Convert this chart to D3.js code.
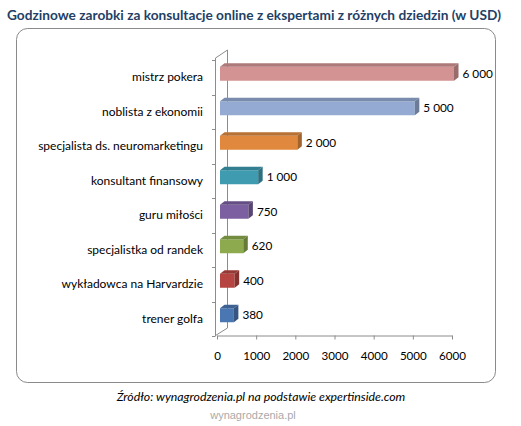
<!DOCTYPE html>
<html><head><meta charset="utf-8">
<script src="https://cdn.jsdelivr.net/npm/d3@7"></script>
<style>body{margin:0;background:#fff}svg{display:block}</style>
</head><body>
<svg id="c" width="521" height="426"></svg>
<script>
const categories = ["mistrz pokera","noblista z ekonomii","specjalista ds. neuromarketingu","konsultant finansowy","guru miłości","specjalistka od randek","wykładowca na Harvardzie","trener golfa"];
const values = [6000,5000,2000,1000,750,620,400,380];
const barColors = ["#D49393","#94AAD2","#E0893E","#3E9BB0","#7B5FA0","#8DAA4E","#B64541","#4A77B2"];
const tickValues = [0,1000,2000,3000,4000,5000,6000];
const title = "Godzinowe zarobki za konsultacje online z ekspertami z różnych dziedzin (w USD)";
const source = "Źródło: wynagrodzenia.pl na podstawie expertinside.com";
const watermark = "wynagrodzenia.pl";

const svg = d3.select("#c");
const font = "Lato, 'Open Sans', sans-serif";

svg.append("text").attr("x",254).attr("y",20).attr("text-anchor","middle")
  .attr("font-family",font).attr("font-weight","bold").attr("font-size",13.7)
  .attr("fill","#243F66").text(title);

svg.append("rect").attr("x",16.5).attr("y",28.5).attr("width",479).attr("height",354)
  .attr("rx",11).attr("fill","#fff").attr("stroke","#8a8a8a").attr("stroke-width",1);

const x = d3.scaleLinear().domain([0,6000]).range([217,452]);
const y = d3.scaleBand().domain(categories).range([60,336]);

// walls
const wall = svg.append("g").attr("stroke","#8c8c8c").attr("fill","none").attr("stroke-width",1);
const dxW = 12, dyW = -8;
wall.append("path").attr("d",`M215.5,${y.range()[0]-2}L${215.5+dxW},${y.range()[0]-2+dyW}L${215.5+dxW},${336+dyW}L215.5,335.5`);
wall.append("line").attr("x1",215.5).attr("x2",215.5).attr("y1",y.range()[0]-2).attr("y2",336);
const bounds = categories.map(c=>y(c)).concat([y.range()[1]]);
wall.selectAll("line.t").data(bounds).join("line").attr("class","t")
  .attr("x1",212).attr("x2",215.5).attr("y1",d=>Math.round(d)+0.5).attr("y2",d=>Math.round(d)+0.5);

// x axis
const ax = svg.append("g").attr("transform","translate(0,335.5)")
  .call(d3.axisBottom(x).tickValues(tickValues).tickFormat(d3.format("d")).tickSize(4).tickSizeOuter(0).tickPadding(12));
ax.select(".domain").attr("stroke","#8c8c8c");
ax.selectAll(".tick line").attr("stroke","#8c8c8c");
ax.selectAll("text").attr("font-family",font).attr("font-size",11.6).attr("fill","#000");

// category labels
svg.selectAll("text.cat").data(categories).join("text").attr("class","cat")
  .attr("x",203).attr("y",d=>y(d)+y.bandwidth()/2).attr("dy","0.35em")
  .attr("text-anchor","end").attr("font-family",font).attr("font-size",12).attr("fill","#000").text(d=>d);

// bars
const loc = d3.formatLocale({decimal:",",thousands:" ",grouping:[3],currency:["",""]});
const fmt = loc.format(",");
const dx = 4.5, dy = -3.5, h = 14;
const bars = svg.selectAll("g.bar").data(categories).join("g").attr("class","bar");
bars.each(function(c,i){
  const g = d3.select(this);
  const x0 = x(0)+3, x1 = x(values[i])+2;
  const yc = y(c)+y.bandwidth()/2-3.5;
  const yt = yc-h/2, yb = yc+h/2;
  const col = d3.color(barColors[i]);
  g.append("rect").attr("x",x0).attr("y",yt).attr("width",x1-x0).attr("height",h).attr("fill",col);
  g.append("path").attr("d",`M${x0},${yt}L${x1},${yt}L${x1+dx},${yt+dy}L${x0+dx},${yt+dy}Z`).attr("fill",col.darker(0.55));
  g.append("path").attr("d",`M${x1},${yt}L${x1+dx},${yt+dy}L${x1+dx},${yb+dy}L${x1},${yb}Z`).attr("fill",col.darker(0.9));
  g.append("text").attr("x",x1+dx+4).attr("y",yc).attr("dy","0.35em")
    .attr("font-family",font).attr("font-size",11.8).attr("fill","#000").text(fmt(values[i]));
});

svg.append("text").attr("x",261).attr("y",401).attr("text-anchor","middle")
  .attr("font-family",font).attr("font-style","italic").attr("font-size",12.3).attr("fill","#000").text(source);
svg.append("text").attr("x",253).attr("y",419).attr("text-anchor","middle")
  .attr("font-family","'Liberation Sans', Arial, sans-serif").attr("font-size",11).attr("fill","#aaa").text(watermark);
</script>
</body></html>
